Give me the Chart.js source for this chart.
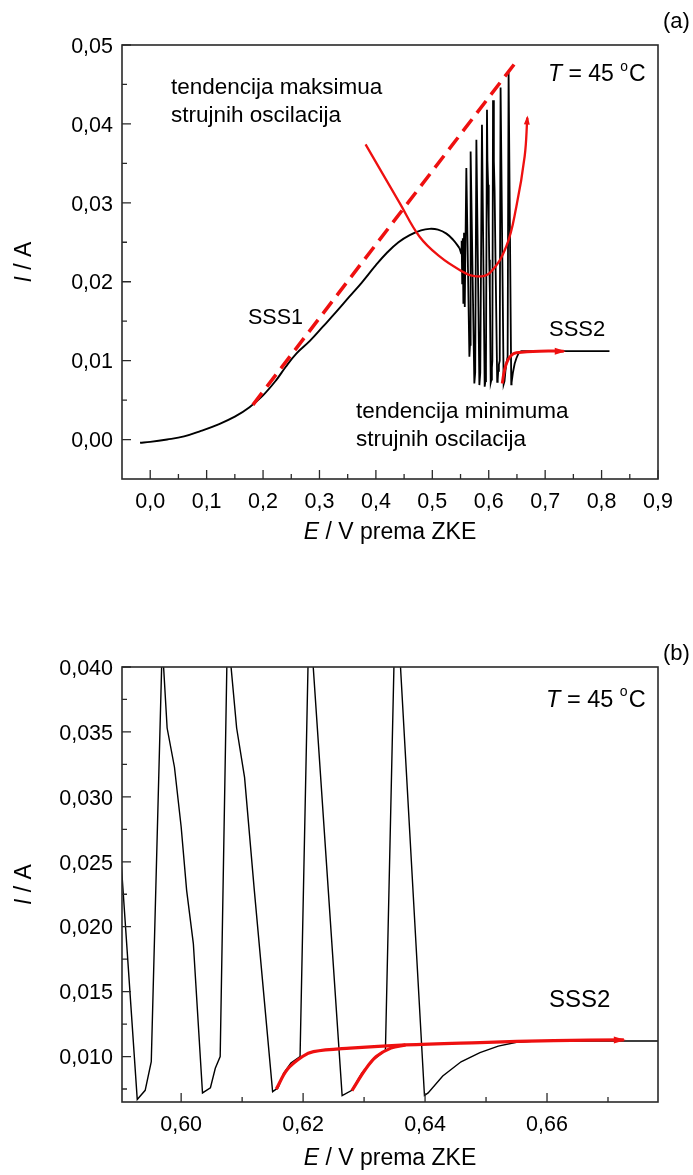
<!DOCTYPE html>
<html><head><meta charset="utf-8">
<script src="https://cdn.jsdelivr.net/npm/chart.js@4.4.1/dist/chart.umd.min.js"></script>
<style>
html,body{margin:0;padding:0;background:#fff;width:693px;height:1175px;overflow:hidden}
canvas{position:absolute;left:0}
#c1{top:0}
#c2{top:580px}
</style></head><body>
<canvas id="c1" width="693" height="580"></canvas>
<canvas id="c2" width="693" height="595"></canvas>
<script>
// ---- measured current vs potential (black curve) ----
const potentialE = [-0.018,0.000,0.030,0.060,0.090,0.120,0.150,0.176,0.200,0.223,0.240,0.259,0.283,0.306,0.330,0.353,0.375,0.400,0.420,0.440,0.460,0.480,0.495,0.510,0.525,0.537,0.548,
  0.5510,0.5520,0.5530,0.5540,0.5550,0.5562,0.5575,0.5603,0.5657,0.5668,0.5679,0.5745,0.5760,0.5781,0.5834,0.5850,0.5880,0.5928,0.5941,0.5951,0.5969,0.5977,0.5989,0.6000,0.6009,0.6020,0.6035,0.6048,0.6056,0.6064,0.6076,0.6091,0.6104,0.6120,0.6150,0.6159,0.6168,0.6180,0.6195,0.6210,0.6264,0.6280,0.6296,0.6314,0.6335,0.6352,0.6399,0.6405,0.6429,0.6459,0.6490,0.6520,0.6550,0.6581,0.6700,0.7000,0.7500,0.8140];
const currentI = [-0.0004,-0.0003,0.0000,0.0004,0.0011,0.0019,0.0029,0.0041,0.0056,0.0075,0.0092,0.0109,0.0125,0.0143,0.0162,0.0181,0.0199,0.0221,0.0237,0.0250,0.0259,0.0265,0.0267,0.0266,0.0261,0.0253,0.0243,
  0.0236,0.0252,0.0198,0.0255,0.0172,0.0262,0.0168,0.0344,0.0105,0.0120,0.0365,0.0071,0.0085,0.0380,0.0069,0.0085,0.0399,0.0067,0.0074,0.0096,0.0418,0.0353,0.0323,0.0277,0.0228,0.0187,0.0072,0.0076,0.0091,0.0100,0.0430,0.0353,0.0315,0.0228,0.0073,0.0076,0.0087,0.0095,0.0100,0.0446,0.0070,0.0074,0.0087,0.0097,0.0105,0.0465,0.0070,0.0072,0.0085,0.0096,0.0103,0.0108,0.0111,0.0112,0.0112,0.0112,0.0112,0.0112];
const smoothEnd = 27; // first 27 points: smooth steady-state branch (SSS1)

// ---- red trend guides (panel a) ----
const maxTrendDashE = [0.182, 0.652];
const maxTrendDashI = [0.0044, 0.0482];
const maxTrendCurveE = [0.3817,0.4420,0.4775,0.5129,0.5484,0.5750,0.6016,0.6312,0.6489,0.6637,0.6684];
const maxTrendCurveI = [0.0374,0.0300,0.0257,0.0232,0.0215,0.0207,0.0211,0.0245,0.0295,0.0359,0.0408];
const minTrendAE = [0.624,0.628,0.634,0.642,0.649,0.690,0.733];
const minTrendAI = [0.0071,0.0088,0.0101,0.0108,0.0110,0.0112,0.0112];

// ---- red trend guides (panel b) ----
const minTrendB1E = [0.6156,0.6174,0.6199,0.6217,0.6277,0.6368,0.6490,0.6611,0.6726];
const minTrendB1I = [0.00749,0.0090,0.0100,0.01038,0.01065,0.0109,0.01108,0.01123,0.01128];
const minTrendB2E = [0.6280,0.6302,0.6320,0.6344,0.6368];
const minTrendB2I = [0.00738,0.0090,0.0100,0.01065,0.0109];

// ---- ticks ----
const topXTicks = [0,0.1,0.2,0.3,0.4,0.5,0.6,0.7,0.8,0.9];
const topXLabels = ['0,0','0,1','0,2','0,3','0,4','0,5','0,6','0,7','0,8','0,9'];
const topXMinor = [0.05,0.15,0.25,0.35,0.45,0.55,0.65,0.75,0.85];
const topYTicks = [0,0.01,0.02,0.03,0.04,0.05];
const topYLabels = ['0,00','0,01','0,02','0,03','0,04','0,05'];
const topYMinor = [0.005,0.015,0.025,0.035,0.045];
const botXTicks = [0.60,0.62,0.64,0.66];
const botXLabels = ['0,60','0,62','0,64','0,66'];
const botXMinor = [0.61,0.63,0.65,0.67];
const botYTicks = [0.010,0.015,0.020,0.025,0.030,0.035,0.040];
const botYLabels = ['0,010','0,015','0,020','0,025','0,030','0,035','0,040'];
const botYMinor = [0.0075,0.0125,0.0175,0.0225,0.0275,0.0325,0.0375];

const RED = 'rgb(238,16,16)';
const FONT = '"Liberation Sans", Arial, Helvetica, sans-serif';
const pts = (xs, ys) => xs.map((x, i) => ({x, y: ys[i]}));

function fontFor(r, size){ const s = r.sup ? size*0.6 : size; return (r.italic ? 'italic ' : '') + s + 'px ' + FONT; }
function drawRuns(ctx, runs, x, y, size, align, rot){
  ctx.save();
  ctx.translate(x, y);
  if (rot) ctx.rotate(rot);
  let w = 0;
  for (const r of runs){ ctx.font = fontFor(r, size); w += ctx.measureText(r.t).width + (r.gap||0); }
  let cx = align === 'center' ? -w/2 : align === 'right' ? -w : 0;
  ctx.textAlign = 'left'; ctx.textBaseline = 'alphabetic'; ctx.fillStyle = '#000';
  for (const r of runs){
    ctx.font = fontFor(r, size);
    ctx.fillText(r.t, cx, r.sup ? -size*0.45 : 0);
    cx += ctx.measureText(r.t).width + (r.gap||0);
  }
  ctx.restore();
}

const framePlugin = {
  id: 'frame',
  afterDatasetsDraw(chart, args, o){
    const ctx = chart.ctx, a = chart.chartArea, xs = chart.scales.x, ys = chart.scales.y;
    (o.arrows || []).forEach(ar => {
      const d = chart.getDatasetMeta(ar.ds).data;
      const p1 = d[d.length-2], p2 = d[d.length-1];
      const ang = Math.atan2(p2.y - p1.y, p2.x - p1.x);
      ctx.save();
      ctx.translate(p2.x, p2.y); ctx.rotate(ang);
      ctx.fillStyle = RED;
      ctx.beginPath();
      ctx.moveTo(2, 0); ctx.lineTo(2 - ar.len, -ar.w/2); ctx.lineTo(2 - ar.len, ar.w/2); ctx.closePath();
      ctx.fill();
      ctx.restore();
    });
    ctx.save();
    ctx.strokeStyle = '#2a2a2a'; ctx.lineWidth = 1.6;
    ctx.strokeRect(a.left, a.top, a.right - a.left, a.bottom - a.top);
    ctx.lineWidth = 1.3;
    ctx.beginPath();
    o.xTicks.forEach(v => { const p = xs.getPixelForValue(v); ctx.moveTo(p, a.bottom); ctx.lineTo(p, a.bottom - 9); });
    o.xMinor.forEach(v => { const p = xs.getPixelForValue(v); ctx.moveTo(p, a.bottom); ctx.lineTo(p, a.bottom - 5); });
    o.yTicks.forEach(v => { const p = ys.getPixelForValue(v); ctx.moveTo(a.left, p); ctx.lineTo(a.left + 9, p); });
    o.yMinor.forEach(v => { const p = ys.getPixelForValue(v); ctx.moveTo(a.left, p); ctx.lineTo(a.left + 5, p); });
    ctx.stroke();
    ctx.restore();
    o.xTicks.forEach((v, i) => drawRuns(ctx, [{t: o.xLabels[i]}], xs.getPixelForValue(v), a.bottom + o.xLabelDy, o.tickSize, 'center'));
    o.yTicks.forEach((v, i) => drawRuns(ctx, [{t: o.yLabels[i]}], a.left - 9, ys.getPixelForValue(v) + o.tickSize*0.36, o.tickSize, 'right'));
    drawRuns(ctx, [{t:'E', italic:true},{t:' / V prema ZKE'}], (a.left + a.right)/2, a.bottom + o.xTitleDy, o.titleSize, 'center');
    drawRuns(ctx, [{t:'I', italic:true},{t:' / A'}], o.yTitleX, (a.top + a.bottom)/2, o.titleSize, 'center', -Math.PI/2);
    (o.texts || []).forEach(t => drawRuns(ctx, t.runs, t.x, t.y, t.size, t.align || 'left'));
  }
};

const tempRuns = [{t:'T', italic:true},{t:' = 45 '},{t:'o', sup:true, gap:1},{t:'C'}];

function makeChart(id, cfg){
  return new Chart(document.getElementById(id), {
    type: 'scatter',
    data: { datasets: cfg.datasets },
    options: {
      responsive: false, animation: false, devicePixelRatio: 1, events: [],
      layout: { padding: cfg.padding },
      scales: {
        x: { type: 'linear', display: false, min: cfg.xmin, max: cfg.xmax },
        y: { type: 'linear', display: false, min: cfg.ymin, max: cfg.ymax }
      },
      plugins: { legend: {display:false}, tooltip: {enabled:false}, frame: cfg.frame },
      elements: { point: { radius: 0 } }
    },
    plugins: [framePlugin]
  });
}

const line = (data, color, width, extra) => Object.assign({ data, showLine: true, borderColor: color, backgroundColor: color, borderWidth: width, pointRadius: 0, fill: false, tension: 0 }, extra || {});
const allPts = pts(potentialE, currentI);
const smoothPts = allPts.slice(0, smoothEnd);
const oscPts = allPts.slice(smoothEnd - 1);

// Panel (a)
makeChart('c1', {
  padding: {left:122, right:35, top:45, bottom:101},
  xmin: -0.05, xmax: 0.9, ymin: -0.005, ymax: 0.05,
  datasets: [
    line(pts(maxTrendDashE, maxTrendDashI), RED, 3.5, {borderDash:[15,8]}),
    line(pts(maxTrendCurveE, maxTrendCurveI), RED, 2.3, {tension:0.4}),
    line(pts(minTrendAE, minTrendAI), RED, 3, {tension:0.4}),
    line(smoothPts, '#000', 1.9, {tension:0.4}),
    line(oscPts, '#000', 1.8)
  ],
  frame: {
    xTicks: topXTicks, xLabels: topXLabels, xMinor: topXMinor,
    yTicks: topYTicks, yLabels: topYLabels, yMinor: topYMinor,
    tickSize: 21.5, xLabelDy: 29, titleSize: 23, xTitleDy: 60, yTitleX: 31,
    arrows: [{ds:1, len:9, w:6}, {ds:2, len:11, w:7}],
    texts: [
      {runs:[{t:'(a)'}], x:663, y:28, size:22},
      {runs:[{t:'tendencija maksimua'}], x:171, y:94, size:22.5},
      {runs:[{t:'strujnih oscilacija'}], x:171, y:122, size:22.5},
      {runs:tempRuns, x:548, y:81, size:23},
      {runs:[{t:'SSS1'}], x:248, y:324, size:21.5},
      {runs:[{t:'SSS2'}], x:549, y:336, size:22},
      {runs:[{t:'tendencija minimuma'}], x:356, y:418, size:22.5},
      {runs:[{t:'strujnih oscilacija'}], x:356, y:446, size:22.5}
    ]
  }
});

// Panel (b)
makeChart('c2', {
  padding: {left:122, right:35, top:87, bottom:73},
  xmin: 0.5903, xmax: 0.6782, ymin: 0.0065, ymax: 0.040,
  datasets: [
    line(pts(minTrendB1E, minTrendB1I), RED, 3.2, {tension:0.35}),
    line(pts(minTrendB2E, minTrendB2I), RED, 3.2, {tension:0.35}),
    line(allPts, '#000', 1.4)
  ],
  frame: {
    xTicks: botXTicks, xLabels: botXLabels, xMinor: botXMinor,
    yTicks: botYTicks, yLabels: botYLabels, yMinor: botYMinor,
    tickSize: 21.5, xLabelDy: 29, titleSize: 23, xTitleDy: 63, yTitleX: 31,
    arrows: [{ds:0, len:12, w:7}],
    texts: [
      {runs:[{t:'(b)'}], x:663, y:80, size:22},
      {runs:tempRuns, x:546, y:127, size:23.5},
      {runs:[{t:'SSS2'}], x:549, y:427, size:24}
    ]
  }
});
</script>
</body></html>
